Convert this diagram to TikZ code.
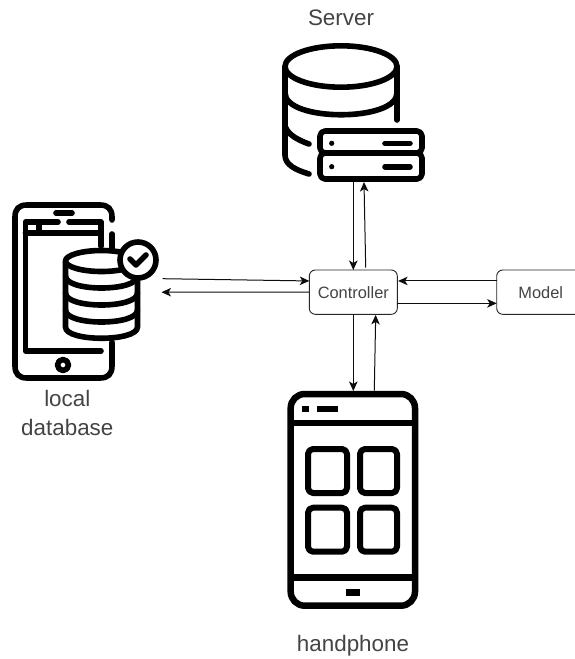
\documentclass[tikz,border=0pt]{standalone}
\usepackage{fontspec}
\setmainfont{Liberation Sans}
\usetikzlibrary{arrows.meta,calc}
\definecolor{txt}{HTML}{444444}
\tikzset{
  icon/.style={line width=#1,line cap=round,line join=round,black},
  icon/.default=5.6pt,
  boxnode/.style={draw=black!85,line width=0.9pt,rounded corners=6pt,minimum width=88pt,minimum height=44.3pt,inner sep=0pt,outer sep=0pt,text=txt,font=\fontsize{16.4}{18}\selectfont},
  label/.style={text=txt,inner sep=0pt,anchor=base,font=\fontsize{22.4}{24}\selectfont},
  conn/.style={-{Stealth[length=9.5pt,width=8.5pt,inset=2.5pt]},line width=1pt,black!95}
}
\begin{document}
\begin{tikzpicture}[x=1pt,y=-1pt]
\useasboundingbox (0,0) rectangle (575,659);
\clip (0,0) rectangle (575,659);
\fill[white] (0,0) rectangle (575,659);
% ---------- server icon
\begin{scope}[icon]
\draw (341,66.5) ellipse [x radius=56pt,y radius=20.7pt];
\draw (285,66.5) -- (285,155) .. controls (285,165) and (296,170) .. (309,174);
\draw (285,93) .. controls (285,122) and (397,122) .. (397,93);
\draw (397,66.5) -- (397,120);
\draw (285,126) .. controls (288,135) and (298,140) .. (309,144);
\draw[fill=white,rounded corners=5pt] (320,131) rectangle (422,153);
\draw[fill=white,rounded corners=5pt] (320,153) rectangle (422,179);
\fill (331.7,143.3) circle (2.6pt);
\fill (331.7,166.7) circle (2.6pt);
\draw (385,143.3) -- (410,143.3);
\draw (385,166.7) -- (410,166.7);
\end{scope}
% ---------- local database icon
\begin{scope}[icon]
\draw (112,220) -- (112,217) .. controls (112,209) and (108,205) .. (100,205) -- (27,205) .. controls (19,205) and (15,209) .. (15,217) -- (15,366) .. controls (15,374) and (19,378) .. (27,378) -- (100,378) .. controls (108,378) and (112,374) .. (112,366) -- (112,342);
\draw (112,234) -- (112,248);
\draw (56,213) -- (72,213);
\draw (58,222) -- (25.5,222) -- (25.5,351) -- (101,351);
\draw (69,222) -- (101,222) -- (101,246);
\draw (25.5,233) -- (101,233);
\draw (39,222) -- (39,233);
\draw (63,365) circle (5.5pt);
\draw[fill=white] (65.5,261) -- (65.5,327) .. controls (65.5,342) and (137.5,342) .. (137.5,327) -- (137.5,261) -- cycle;
\draw[fill=white] (101.5,261) ellipse [x radius=36pt,y radius=10.5pt];
\draw (65.5,276) .. controls (65.5,292) and (137.5,292) .. (137.5,276);
\draw (65.5,293) .. controls (65.5,309) and (137.5,309) .. (137.5,293);
\draw (65.5,310) .. controls (65.5,326) and (137.5,326) .. (137.5,310);
\draw[fill=white] (138,260) circle (18pt);
\draw (130,259) -- (136,265) -- (146,255);
\end{scope}
% ---------- handphone icon
\begin{scope}[icon=6.5pt]
\draw[rounded corners=14pt] (290.7,394) rectangle (415,605.7);
\draw[line cap=butt] (290.7,423) -- (415,423);
\draw[line cap=butt] (290.7,577.7) -- (415,577.7);
\end{scope}
\begin{scope}[icon=6pt]
\draw[rounded corners=5pt] (308,449) rectangle (347,493);
\draw[rounded corners=5pt] (360,449) rectangle (397,493);
\draw[rounded corners=5pt] (308,507.7) rectangle (347,551.7);
\draw[rounded corners=5pt] (360,507.7) rectangle (397,551.7);
\end{scope}
\fill (301.7,405.7) rectangle (309,412.3);
\fill (316.7,405.7) rectangle (338.3,412.3);
\fill (345.7,589) rectangle (360.3,596);
% ---------- anchors on the icons
\coordinate (srvA) at (353.3,181.7);
\coordinate (srvB) at (364,182);
\coordinate (locA) at (162.7,278.7);
\coordinate (locB) at (161.5,292.2);
\coordinate (hpA) at (353.3,391);
\coordinate (hpB) at (374.3,390.7);
% ---------- boxes
\node[boxnode] (ctrl) at (353.3,292.15) {Controller};
\node[boxnode,text width=76pt,align=center] (model) at (540.7,292.15) {Model};
% ---------- connectors
\draw[conn] (srvA) -- (ctrl.north);
\draw[conn] ($(ctrl.north)+(12.4,-2.5)$) -- (srvB);
\draw[conn] (locA) -- ($(ctrl.west)+(0,-11.2)$);
\draw[conn] (ctrl.west) -- (locB);
\draw[conn] ($(model.west)+(0,-11.2)$) -- ($(ctrl.east)+(0.8,-11.2)$);
\draw[conn] ($(ctrl.east)+(0,11.2)$) -- ($(model.west)+(0,11.2)$);
\draw[conn] (ctrl.south) -- (hpA);
\draw[conn] (hpB) -- ($(ctrl.south)+(22.4,0.6)$);
% ---------- labels
\node[label] (srvlabel) at (341,25) {Server};
\node[label] (loclabel) at (67.3,406.7) {local};
\node[label] (loclabelb) at (67.3,435) {database};
\node[label] (hplabel) at (353,651.7) {handphone};
\end{tikzpicture}
\end{document}
